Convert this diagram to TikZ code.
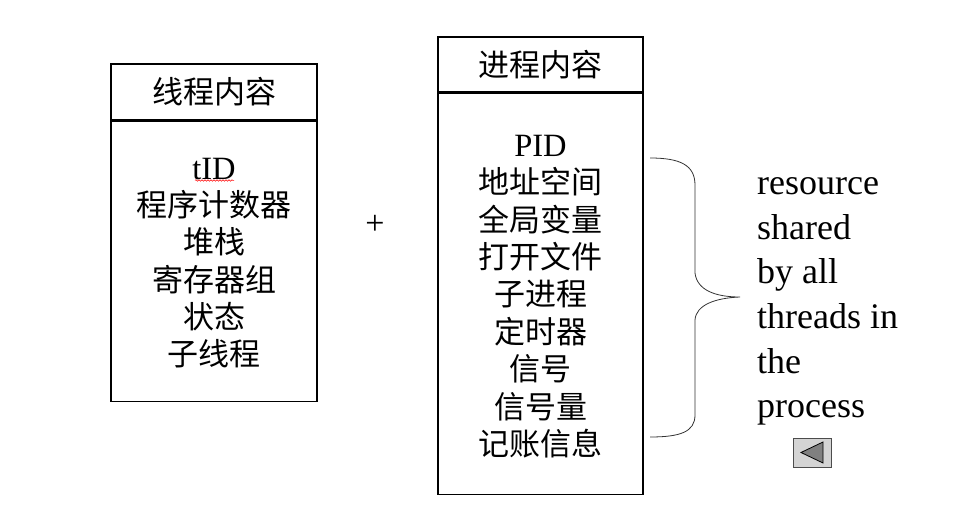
\documentclass[tikz,border=0pt]{standalone}
\usepackage{fontspec}
\setmainfont{Liberation Serif}
\newfontfamily\cjk{Noto Sans CJK SC}
\usetikzlibrary{positioning,decorations.pathmorphing}
\begin{document}
\begin{tikzpicture}[x=1pt,y=-1pt,
				every node/.style={inner sep=0pt},
				box/.style={draw,line width=1.1pt},
				head/.style={box,minimum width=206pt,font=\fontsize{31}{31}\selectfont\cjk},
				items/.style={align=center,font=\fontsize{31}{37.4}\selectfont\cjk},
				note/.style={align=left,font=\fontsize{36}{44.6}\selectfont}]
\useasboundingbox (0,0) rectangle (959,510);
% thread box
\node[head,minimum height=56pt] (thead) at (214,92) {线程内容};
\node[box,minimum width=206pt,minimum height=280pt,below=0pt of thead] (tbody) {};
\node[items,yshift=-2pt] (titems) at (tbody.center)
	{{\fontsize{32.5}{37.4}\selectfont\rmfamily tID}\\程序计数器\\堆栈\\寄存器组\\状态\\子线程};
\draw[red,line width=0.5pt,decorate,
	decoration={snake,amplitude=0.8pt,segment length=3pt}] (195,180.5) -- (234,180.5);
% plus
\node[font=\fontsize{34}{34}\selectfont] (plus) at (375,225) {+};
% process box
\node[head,minimum width=205pt,minimum height=55pt] (phead) at (540.5,64.5) {进程内容};
\node[box,minimum width=205pt,minimum height=401pt,below=0pt of phead] (pbody) {};
\node[items,yshift=-3pt] (pitems) at (pbody.center)
	{{\fontsize{32.5}{37.4}\selectfont\rmfamily PID}\\地址空间\\全局变量\\打开文件\\子进程\\定时器\\信号\\信号量\\记账信息};
% brace
\draw[line width=0.8pt,black!80] (650,158) .. controls (680,158) and (695,165) .. (695,185)
	-- (695,273) .. controls (697,290) and (715,297) .. (740,297)
	.. controls (715,298) and (696,305) .. (695,320)
	-- (695,415) .. controls (695,432) and (680,437) .. (650,437);
\node[note,anchor=west] (shared) at (757,301.5)
	{resource\\shared\\by all\\threads in\\the\\process};
% back button
\node[draw=black!70,fill=black!17,minimum width=38pt,minimum height=29pt] (back)
	at (812,452.5) {};
\filldraw[fill=black!50,draw=black,line width=0.8pt] ([xshift=-11pt]back.center)
	-- ++(22,-10.5) -- ++(0,21) -- cycle;
\end{tikzpicture}
\end{document}
